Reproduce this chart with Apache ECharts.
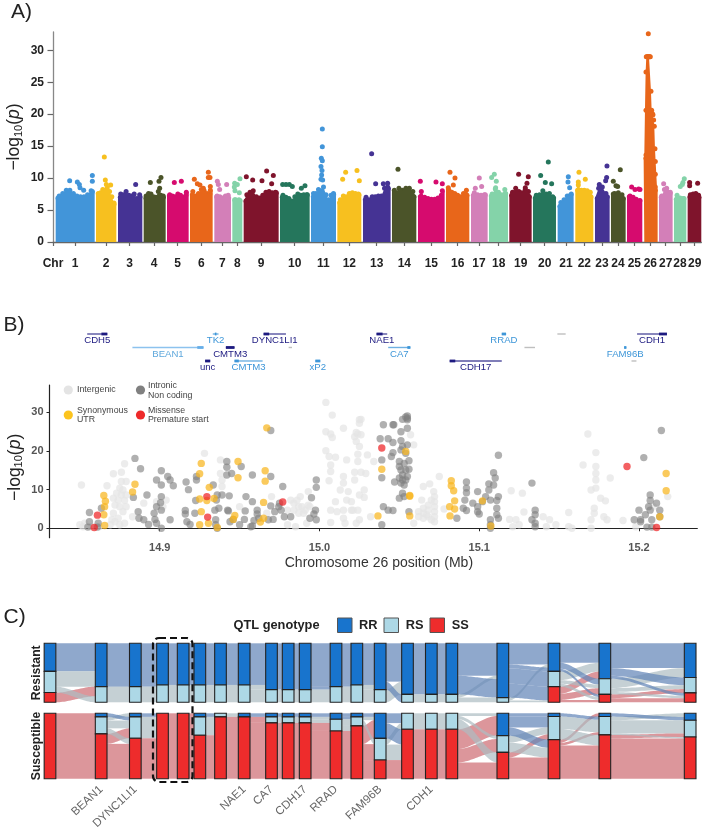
<!DOCTYPE html>
<html><head><meta charset="utf-8">
<style>html,body{margin:0;padding:0;background:#fff}#c{width:711px;height:831px;filter:blur(.4px)}</style>
<script src="https://cdn.jsdelivr.net/npm/echarts@6/dist/echarts.min.js"></script>
</head><body><div id="c"></div>
<script>
const FONT='"Liberation Sans",Arial,sans-serif';
// ---------- Panel A: genome-wide scan (x in arbitrary cumulative genome units)
const chrNames=['1','2','3','4','5','6','7','8','9','10','11','12','13','14','15','16','17','18','19','20','21','22','23','24','25','26','27','28','29'];
const chrStart=[167,288,354,431,501,570,643,697,731,840,933,1012,1089,1176,1254,1338,1413,1467,1528,1599,1673,1726,1785,1833,1881,1931,1977,2022,2063];
const chrEnd=[284,349,427,497,566,638,693,727,836,929,1008,1084,1172,1249,1334,1408,1463,1524,1595,1668,1721,1780,1829,1877,1927,1973,2018,2059,2104];
const chrLabelPos=[225,318,389,462,533,604,667,712,783,884,970,1048,1130,1213,1294,1373,1437,1496,1562,1634,1698,1753,1806,1854,1903,1951,1997,2040,2084];
const chrPalette=['#4295d9','#f7c01f','#453394','#4b5429','#d60b6e','#e8661a','#d37fb8','#84d3a9','#7f142c','#25765c'];
const chrTop=[
[7.3,7.6,8,8.5,8.5,8,7.6,7.5,7.5,7.8,8.4,8.3],
[8,7.9,8.1,8.6,8.5,8.9,8.3,7.5,6.5,6.3],
[7.4,7.9,7.8,8.3,7.7,7.6,7.9,7.2,7.8,7.5],
[7.3,7.6,8,7.9,7.5,7.4,8.3,7.7,7.6,7.4],
[7.6,7.8,7.6,7.5,7.9,7.7,7.4,7.7,8.2],
[7.8,8.3,7.6,8,8.6,8.4,8,7.9,8.5],
[7.5,7.6,7.5,7.3,7.6,7.7,7.3],
[7,7,7,6.9],
[6.8,7.8,8.2,8.4,7.5,7.3,7.7,8.2,8.3,8.1,8.2,8.1],
[7.4,7.7,7.4,7.2,6.8,7.5,7.9,7.7,7.8,7.8,7.8],
[7.5,8,8,8.6,8.4,9,7.8,7,7.7,8,7.8],
[6.6,7,7.6,7.5,8,8.1,8,7.9,7.8],
[7,7.4,7,7.5,7.5,7.6,7.6,8.8,9,8.8],
[8.5,8.1,8.8,8.5,8.8,8.8,8.3,7.5],
[7.5,8.3,7.4,7.2,7.1,7.1,7.3,7.7,8.4],
[8.9,8.5,8.2,8,7.7,7.5,8,8.5,7.7],
[7.7,8.1,7.8,7.7,7.8,7.8],
[7.6,7.9,8.7,8.2,7.8,8.6,8],
[7.7,8.2,8.8,8.3,8.1,8.6,8.3,7.5],
[7.3,7.7,7.8,8.4,7.9,8,7.5,7.3],
[6,6.6,7,7.6,7.7,7.9],
[8.5,9.3,8.5,8.5,8.4,8.2,7.5],
[7.2,8.8,9,8,7.5],
[7.9,8,8.1,7.8,7.2],
[7.5,7.6,7.4,7.1,6.8,6.9],
[13.5,14,21,27,29.4,29.4,29.4,29.4,29.4,29.4,29.4,24,21,20.5,20.3,19.5,18.5,15,13,11,9,8.5],
[7.4,7.6,8.6,8.3,7.9,8.2],
[7.1,7.7,7.3,7.2,7.2],
[7.5,7.8,7.9,8,7.7,7.4]];
const chrPeaks=[
[[209,9.6],[232,9.4],[238,9],[240,8.5],[251,8.1],[277,10.4],[277,9.5]],
[[313,13.3],[316,9.7],[332,8.9],[319,9]],
[[407,9]],
[[451,9.3],[477,9.5],[483,10.1],[479,8.4]],
[[523,9.3],[544,9.5]],
[[583,9.8],[592,9.1],[600,8.9],[625,10.9],[625,10.1],[630,10.1],[610,8.4],[631,8.7]],
[[652,9.5],[655,9],[659,8.2],[680,9]],
[[704,9.2],[703,8.6],[712,9],[720,9.9],[718,7.7],[705,8]],
[[739,10.2],[758,9.7],[786,9.6],[800,11.1],[815,9.1],[820,10.4]],
[[848,9],[858,9],[868,9],[877,8.7],[904,8.4],[915,8.8]],
[[967,17.7],[967,14.9],[964,13.1],[967,12.7],[963,11.8],[966,11.2],[965,10.5],[968,9.7],[963,9.8]],
[[1028,9.8],[1037,10.9],[1071,11.2],[1078,9.6]],
[[1115,13.8],[1127,9.1],[1150,9.1],[1163,9.2]],
[[1194,11.4]],
[[1261,9.5],[1308,9.4],[1327,9.1]],
[[1350,10.9],[1365,10],[1360,8.9]],
[[1438,10],[1445,8.7],[1426,8.4]],
[[1475,10.1],[1483,10.6],[1489,9.5],[1487,8.5]],
[[1556,10.6],[1585,10.2],[1581,9.2],[1576,8.5]],
[[1645,12.5],[1622,10.4],[1636,9.3],[1655,9.1]],
[[1705,10.2],[1704,9.4],[1709,8.5]],
[[1737,10.9],[1735,9.4],[1756,9.8]],
[[1821,11.9],[1820,10.1],[1817,9.6],[1798,9]],
[[1861,11.3],[1840,9.5],[1848,8.8],[1853,8.7]],
[[1895,8.6],[1905,8.2],[1916,8.3],[1920,8.2]],
[[1945,32.6]],
[[1991,9.1],[2000,8.4]],
[[2041,8.7],[2047,9],[2053,9.9],[2049,9.3]],
[[2069,9.3],[2069,8.8],[2093,9.2]]];
// ---------- Panel B: chromosome 26 zoom [Mb, -log10 p]
const intergenic=[[14.851,11.2],[14.876,14.5],[14.871,14.1],[14.878,16.7],[14.928,19.4],[14.938,17.7],[14.938,14.2],[14.939,12.5],[14.867,11],[14.876,12.1],[14.879,12.1],[14.875,10.4],[14.877,9.9],[14.873,9.1],[14.876,8.6],[14.879,8.6],[14.871,7.8],[14.874,7.3],[14.878,7.2],[14.872,6],[14.875,5.6],[14.879,5.6],[14.877,4.3],[14.871,3.9],[14.874,2.6],[14.87,2.2],[14.85,.9],[14.853,1.3],[14.852,.4],[14.857,.4],[14.862,.4],[14.869,.9],[14.872,1.7],[14.875,.9],[14.878,1.3],[14.883,3],[14.89,6.5],[14.902,5.6],[14.904,7.3],[14.898,6.9],[14.939,10.8],[14.95,5.6],[14.967,3.9],[14.97,8.2],[14.98,4.7],[14.982,7.3],[14.984,6.5],[14.986,7.3],[14.988,8.2],[14.993,9.5],[14.984,4.7],[14.987,5.6],[14.989,5.6],[14.991,4.7],[14.993,6],[14.987,3.9],[14.99,3.9],[14.994,5.6],[14.98,.9],[14.985,.4],[14.992,1.3],
[15.004,32.6],[15.008,29.3],[15.015,25.9],[15.004,25],[15.007,24.4],[15.008,23.5],[15.004,20.1],[15.006,18.6],[15.01,18.4],[15.007,16.4],[15.007,14.7],[15.006,12.3],[15.017,17.7],[15.022,23.7],[15.024,24.4],[15.025,21.2],[15.025,28.1],[15.025,27.2],[15.024,19.2],[15.024,17.3],[15.022,14.5],[15.015,13.4],[15.015,11.7],[15.013,9.9],[15.017,7.3],[15.01,6.9],[15.007,4.7],[15.011,4.3],[15.015,4.7],[15.02,4.7],[15.007,1.5],[15.015,2.6],[15.024,4.7],[15.016,1.3],[15.025,2.2],[15.018,9.5],
[15.026,28.2],[15.023,24.8],[15.026,24.2],[15.023,22.5],[15.03,19],[15.034,17.3],[15.026,14.5],[15.029,14.2],[15.022,12.5],[15.028,9.9],[15.028,8],[15.025,8.6],[15.02,6.9],[15.021,4.7],[15.023,1.3],[15.032,3],[15.059,21.6],[15.057,24.2],[15.075,13.4],[15.065,10.8],[15.069,11.5],[15.064,7.3],[15.0715,9.5],[15.072,8.2],[15.072,6.9],[15.072,5.6],[15.072,4.3],[15.072,3],[15.072,1.7],[15.068,6],[15.068,4.7],[15.068,3],[15.065,5.2],[15.065,3.9],[15.065,2.6],[15.062,4.3],[15.062,3],[15.07,7.3],[15.067,3.5],[15.07,2.2],[15.078,5],[15.059,1.3],
[15.121,.4],[15.12,9.7],[15.127,9.1],[15.128,4.2],[15.119,2.3],[15.123,2.2],[15.125,.9],[15.14,3],[15.144,2.2],[15.142,.4],[15.148,.9],[15.156,4.1],[15.156,.4],[15.158,0],[15.165,16.4],[15.168,24.4],[15.173,19.6],[15.173,16],[15.173,14.2],[15.173,12.5],[15.173,10.4],[15.17,9.9],[15.176,7.8],[15.179,7.1],[15.182,13],[15.172,5.2],[15.172,3.9],[15.17,2.2],[15.178,3],[15.18,2.2],[15.17,0],[15.19,2],[15.198,.4],[15.218,8.2],[15.209,5.6]];
const intronic=[[14.8845,18.1],[14.888,15.4],[14.8835,8],[14.856,4.1],[14.8635,5.2],[14.856,1.7],[14.8615,1.3],[14.855,.3],[14.861,.3],[14.8865,4.3],[14.887,2.6],[14.89,2.2],[14.892,8.6],[14.898,12.5],[14.901,14.9],[14.901,11.2],[14.905,13.4],[14.9065,12.5],[14.9085,11],[14.901,8.2],[14.9005,6.6],[14.8965,3.9],[14.898,5.6],[14.897,2.3],[14.893,1],[14.898,1.3],[14.901,0],[14.901,4.7],[14.9065,2.2],[14.9165,12],[14.918,10],[14.923,13.4],[14.923,12.5],[14.9225,7.2],[14.916,4.6],[14.922,3.9],[14.916,3.7],[14.917,1.7],[14.919,1],[14.9335,11.2],[14.936,8.6],[14.939,8.6],[14.9435,8.4],[14.9355,7.3],[14.937,5.2],[14.9345,4.7],[14.9425,4.7],[14.943,4.5],[14.942,17.3],[14.942,15.8],[14.942,13.8],[14.945,14.2],[14.951,16],[14.958,13.8],[14.9695,25.3],[14.9695,13.4],[14.977,10.8],[14.954,8.2],[14.958,6.9],[14.9535,4.5],[14.961,4.7],[14.9695,5.8],[14.9745,5.6],[14.975,6.5],[14.976,4.7],[14.972,4.3],[14.971,2.3],[14.968,2.2],[14.978,3],[14.982,3],[14.961,3.7],[14.962,2.6],[14.959,2],[14.957,.4],[14.958,.6],[14.953,2.3],[14.95,.9],[14.946,2.3],[14.944,1.7],[14.935,2.2],[14.935,.9],[14.936,0],[14.998,12.5],[14.998,10.6],[14.995,7.9],[14.9975,4.7],[14.9965,3.7],[14.994,2.6],[14.998,2.2],
[15.04,26.8],[15.046,26.8],[15.0465,26.8],[15.055,29.1],[15.052,28.2],[15.055,28.1],[15.055,28.5],[15.054,28.8],[15.055,25.9],[15.051,25],[15.038,23.2],[15.043,23.2],[15.046,22.2],[15.051,22.7],[15.052,21.2],[15.055,21.6],[15.051,20.3],[15.054,19.4],[15.046,19.6],[15.045,18.6],[15.039,17.7],[15.05,17.3],[15.05,16],[15.053,16.8],[15.056,17.5],[15.051,15.1],[15.054,15.1],[15.052,13.8],[15.05,13],[15.052,12.5],[15.056,15.3],[15.055,13.4],[15.051,11.7],[15.047,12],[15.053,11.2],[15.054,12.5],[15.039,13.1],[15.052,9.1],[15.05,7.8],[15.053,8.2],[15.04,5.6],[15.043,4.7],[15.046,4.6],[15.056,4.3],[15.039,.9],
[15.112,18.9],[15.109,14.4],[15.11,13],[15.106,11.5],[15.109,11.2],[15.092,12],[15.092,10.4],[15.092,9.2],[15.091,7.3],[15.099,9.5],[15.106,9.9],[15.104,8.2],[15.102,6.9],[15.112,8.2],[15.111,7.2],[15.107,7.3],[15.096,6.5],[15.099,5.6],[15.099,4.3],[15.09,5.2],[15.092,4.6],[15.1,3.7],[15.111,5.2],[15.111,3.5],[15.112,2.6],[15.086,2.6],[15.107,2.2],[15.107,.9],[15.107,0],[15.133,11.7],[15.135,4.7],[15.135,3.5],[15.133,2.2],[15.135,.4],[15.135,1.3],
[15.214,25.3],[15.203,18.3],[15.207,8.6],[15.207,7.2],[15.211,6.5],[15.206,5.6],[15.213,4.7],[15.207,4.7],[15.2,4.7],[15.204,3.5],[15.197,2.2],[15.201,2.2],[15.201,1.7],[15.208,2.2],[15.205,.3],[15.208,.3],[15.213,3]];
const synonymous=[[14.967,26],[14.926,16.8],[14.949,17.3],[14.925,14.1],[14.949,13.1],[14.966,14.9],[14.966,12.2],[14.8845,11.4],[14.883,9.4],[14.931,10.6],[14.865,8.5],[14.866,7],[14.8655,5.6],[14.865,3.5],[14.8655,.7],[14.925,7.6],[14.9295,7.2],[14.934,7.7],[14.965,6.7],[14.926,4.3],[14.947,3.3],[14.946,2.3],[14.965,2.6],[14.963,1.6],[14.925,.9],[14.9305,1.3],[14.936,.2],
[15.039,15.3],[15.054,19.9],[15.0565,8.5],[15.0565,8.3],[15.0366,3.2],[15.0565,3.2],[15.0825,12.3],[15.0825,11],[15.084,9.7],[15.0846,7.1],[15.0815,5.6],[15.0846,5],[15.0817,3.2],[15.102,7.1],[15.1073,.6],[15.217,14.2],[15.217,9.7],[15.213,3]];
const missense=[[14.861,3.4],[14.859,.2],[14.9295,8.2],[14.93,2.9],[14.977,6.8],[15.039,20.8],[15.1925,16],[15.211,.2]];
// gene track
const geneNames=['CDH5','TK2','DYNC1LI1','NAE1','RRAD','','CDH1','BEAN1','CMTM3','','CA7','','FAM96B','unc','CMTM3','xP2','CDH17',''];
const geneStart=[14.8546,14.9332,14.965,15.0357,15.1141,15.1489,15.1988,14.8829,14.9414,14.9807,15.043,15.1283,15.1907,14.9284,14.9468,14.9974,15.0815,15.1953];
const geneEnd=[14.8672,14.9368,14.979,15.0424,15.1168,15.1541,15.2175,14.9274,14.9468,14.9828,15.0569,15.1349,15.1921,14.9316,14.9644,15.0005,15.1141,15.1984];
const geneRow=[0,0,0,0,0,0,0,1,1,1,1,1,1,2,2,2,2,2];
const geneKind=[0,1,0,0,1,2,0,3,0,2,1,2,1,0,1,1,0,2];
const geneThickStart=[14.8635,14.9345,14.965,15.0357,15.1141,0,15.2125,14.9235,14.9414,0,15.055,0,15.1907,14.9284,14.9468,14.9974,15.0815,0];
const geneThickEnd=[14.8672,14.9355,14.9685,15.0395,15.1168,0,15.2175,14.9274,14.9468,0,15.0569,0,15.1921,14.9316,14.9495,15.0005,15.085,0];
const geneColors=['#1d1a80','#3d96d8','#aaaaaa','#66aee8'];
// ---------- Panel C: genotype frequencies along the QTL
const markerPos=[150,303.5,406,487.5,549.5,599.5,661.5,732.5,814.5,864.5,915.5,1008,1070.5,1140.5,1222.5,1294,1355.5,1508.5,1662,1814.5,2070.5];
const resRR=[.475,.735,.735,.706,.706,.706,.706,.706,.785,.785,.785,.735,.706,.785,.865,.865,.865,.92,.475,.6,.58];
const resRS=[.36,.265,.265,.294,.294,.294,.294,.294,.215,.215,.215,.265,.294,.215,.135,.135,.135,.08,.26,.265,.26];
const resSS=[.165,0,0,0,0,0,0,0,0,0,0,0,0,0,0,0,0,0,.265,.135,.16];
const susRR=[0,.055,.055,0,0,.055,0,.055,.055,.055,.055,.092,.055,.383,0,0,0,.342,.05,.05,.107];
const susRS=[0,.26,.327,0,0,.28,.055,0,.092,.092,.092,.178,.138,.332,.245,.245,.245,.255,.352,.28,.255];
const susSS=[1,.685,.618,1,1,.665,.945,.945,.853,.853,.853,.73,.807,.285,.755,.755,.755,.403,.598,.67,.638];
// hand-read crossings between markers: [from genotype, to genotype, share]; gaps not listed follow stratum order
const resFlows={0:[[0,0,.475],[1,0,.26],[2,1,.165],[1,1,.1]],
13:[[0,0,.65],[1,0,.215],[0,1,.135]],
16:[[0,0,.55],[1,0,.055],[0,0,.315],[1,1,.08]],
17:[[0,0,.36],[1,0,.05],[0,0,.065],[0,1,.26],[0,2,.235],[1,2,.03]],
18:[[0,0,.33],[1,0,.15],[2,0,.12],[0,1,.1],[1,1,.06],[2,1,.105],[0,2,.045],[1,2,.05],[2,2,.04]],
19:[[0,0,.42],[1,0,.16],[0,1,.13],[1,1,.065],[2,1,.065],[0,2,.05],[1,2,.04],[2,2,.07]]};
const susFlows={1:[[1,0,.055],[0,1,.055],[1,1,.12],[2,1,.152],[1,2,.085],[2,2,.533]],
12:[[0,0,.055],[1,0,.05],[2,0,.278],[1,1,.088],[2,1,.244],[2,2,.285]],
13:[[0,1,.15],[1,1,.095],[0,2,.233],[1,2,.237],[2,2,.285]],
16:[[1,0,.04],[2,0,.302],[1,1,.05],[2,1,.205],[1,2,.155],[2,2,.248]],
17:[[0,0,.05],[0,1,.166],[1,1,.106],[2,1,.08],[0,2,.126],[1,2,.149],[2,2,.323]],
18:[[2,0,.05],[0,1,.05],[1,1,.19],[2,1,.04],[1,2,.162],[2,2,.508]],
19:[[1,0,.057],[0,0,.05],[1,1,.2],[2,1,.055],[1,2,.023],[2,2,.615]]};
const markerGeneNames=['BEAN1','DYNC1LI1','NAE1','CA7','CDH17','RRAD','FAM96B','CDH1'];
const markerGeneIdx=[1,2,7,8,10,11,13,15];
const genoNames=['RR','RS','SS'];
const genoFill=['#1874cd','#add8e6','#ee2c2c'];
const flowFill=['rgba(100,135,185,.72)','rgba(172,188,194,.7)','rgba(205,105,113,.7)'];

// ---------- helpers
const colWidth=35;
function nwFlows(a,b){const out=[];let i=0,j=0,ra=a[0],rb=b[0];
  while(i<3&&j<3){const m=Math.min(ra,rb);if(m>1e-6)out.push([i,j,m]);ra-=m;rb-=m;
    if(ra<=1e-6){i++;ra=a[i]}else if(rb<=1e-6){j++;rb=b[j]}
    else{i++;ra=a[i]}}
  return out}
function buildFlows(RR,RS,SS,table){const rows=[];
  for(let g=0;g<markerPos.length-1;g++){
    const a=[RR[g],RS[g],SS[g]],b=[RR[g+1],RS[g+1],SS[g+1]];
    const list=table[g]||nwFlows(a,b);
    const ca=[0,a[0],a[0]+a[1]],cb=[0,b[0],b[0]+b[1]];
    list.forEach(f=>{const s=ca[f[0]],d=cb[f[1]];ca[f[0]]+=f[2];cb[f[1]]+=f[2];
      rows.push([markerPos[g]+colWidth/2,markerPos[g+1]-colWidth/2,s,s+f[2],d,d+f[2],f[0]]);});
  }
  return rows}
function buildStrata(RR,RS,SS){const rows=[];
  markerPos.forEach((x,i)=>{let c=0;[RR[i],RS[i],SS[i]].forEach((v,k)=>{if(v>0)rows.push([x,c,c+v,k]);c+=v;});});
  return rows}
function renderFlow(p,api){
  const x0=api.value(0),x1=api.value(1),a0=api.value(2),a1=api.value(3),b0=api.value(4),b1=api.value(5),k=api.value(6);
  const top=[],bot=[];const N=24;
  for(let i=0;i<=N;i++){const t=i/N,e=t*t*(3-2*t),x=x0+(x1-x0)*t;
    top.push(api.coord([x,a0+(b0-a0)*e]));bot.unshift(api.coord([x,a1+(b1-a1)*e]));}
  return {type:'polygon',shape:{points:top.concat(bot)},style:{fill:flowFill[k]},silent:true}}
function renderStratum(p,api){
  const x=api.value(0),a=api.coord([x-colWidth/2,api.value(1)]),b=api.coord([x+colWidth/2,api.value(2)]);
  return {type:'rect',shape:{x:a[0],y:a[1],width:b[0]-a[0],height:b[1]-a[1]},style:{fill:genoFill[api.value(3)],stroke:'#222',lineWidth:1.1},silent:true}}
function renderGene(p,api){
  const i=p.dataIndex,c=geneColors[geneKind[i]],r=geneRow[i];
  const a=api.coord([geneStart[i],r]),b=api.coord([geneEnd[i],r]);
  const kids=[{type:'rect',shape:{x:a[0],y:a[1]-.7,width:b[0]-a[0],height:1.4},style:{fill:c,opacity:.75}}];
  if(geneThickEnd[i]>0){const s=api.coord([geneThickStart[i],r]),e=api.coord([geneThickEnd[i],r]);
    kids.push({type:'rect',shape:{x:s[0],y:a[1]-1.4,width:e[0]-s[0],height:2.8},style:{fill:c}});}
  if(geneNames[i])kids.push({type:'text',style:{text:geneNames[i],x:(a[0]+b[0])/2,y:a[1]+6.6,fill:c==='#66aee8'?'#5fa8dc':c,fontSize:9.6,fontFamily:FONT,align:'center',verticalAlign:'middle'}});
  return {type:'group',children:kids,silent:true}}
const logName='{a|\u2212log}{s|10}{a|(}{i|p}{a|)}';
const logRich={a:{fontSize:17.5,fontFamily:FONT,color:'#222'},s:{fontSize:11,fontFamily:FONT,color:'#222',verticalAlign:'bottom',lineHeight:19},i:{fontSize:17.5,fontFamily:FONT,fontStyle:'italic',color:'#222'}};
const hidden={show:false};

// ---------- series
const series=[];
chrNames.forEach((n,i)=>{
  const top=chrTop[i],c=chrPalette[i<20?i%10:(i-20)%10],s=chrStart[i],e=chrEnd[i],step=(e-s)/(top.length-1),lift=.4;
  series.push({type:'line',xAxisIndex:0,yAxisIndex:0,clip:false,showSymbol:false,silent:true,
    lineStyle:{width:0},itemStyle:{color:c},areaStyle:{color:c,opacity:1},
    data:top.map((v,k)=>[s+k*step,v-lift])});
  series.push({type:'scatter',xAxisIndex:0,yAxisIndex:0,clip:false,silent:true,symbolSize:5,itemStyle:{color:c,opacity:1},
    data:top.map((v,k)=>[Math.min(Math.max(s+k*step,s+7),e-7),v-lift]).concat(chrPeaks[i])});
});
series.push({type:'custom',xAxisIndex:1,yAxisIndex:1,clip:false,silent:true,renderItem:renderGene,
  data:geneStart.map((v,i)=>[v,geneRow[i]]),encode:{x:0,y:1}});
[[intergenic,'#e4e4e4',.72],[intronic,'#7f7f7f',.62],[synonymous,'#f8b51e',.72],[missense,'#ee2226',.72]].forEach(d=>{
  series.push({type:'scatter',xAxisIndex:2,yAxisIndex:2,clip:false,silent:true,symbolSize:7.4,itemStyle:{color:d[1],opacity:d[2]},data:d[0]});});
[[resRR,resRS,resSS,resFlows,3],[susRR,susRS,susSS,susFlows,4]].forEach(f=>{
  series.push({type:'custom',xAxisIndex:f[4],yAxisIndex:f[4],silent:true,clip:false,renderItem:renderFlow,encode:{x:[0,1],y:[2,3,4,5]},data:buildFlows(f[0],f[1],f[2],f[3])});
  series.push({type:'custom',xAxisIndex:f[4],yAxisIndex:f[4],silent:true,clip:false,z:4,renderItem:renderStratum,encode:{x:0,y:[1,2]},data:buildStrata(f[0],f[1],f[2])});
});

// ---------- annotation layer
const txt=(text,x,y,font,fill,extra)=>Object.assign({type:'text',x,y,z:20,silent:true,style:Object.assign({text,font,fill,textVerticalAlign:'middle',verticalAlign:'middle'},extra||{})},{});
const dot=(cx,cy,fill)=>({type:'circle',z:20,silent:true,shape:{cx,cy,r:4.6},style:{fill}});
const sq=(x,k)=>({type:'rect',z:20,silent:true,shape:{x,y:618,width:14.5,height:14.5},style:{fill:genoFill[k],stroke:'#555',lineWidth:1}});
const small='8.8px '+FONT, big='21px '+FONT, legB='bold 12.8px '+FONT;
const graphic=[
 txt('A)',11,12.5,big,'#222'),txt('B)',3.5,325,big,'#222'),txt('C)',3.5,617,big,'#222'),
 dot(68.3,390,'#e4e4e4'),txt('Intergenic',77,390,small,'#444'),
 dot(140.5,390,'#808080'),txt('Intronic',148,385.5,small,'#444'),txt('Non coding',148,395.5,small,'#444'),
 dot(68.3,415,'#fcc41e'),txt('Synonymous',77,410.5,small,'#444'),txt('UTR',77,420,small,'#444'),
 dot(140.5,415,'#ee2a2a'),txt('Missense',148,410.5,small,'#444'),txt('Premature start',148,420,small,'#444'),
 txt('QTL genotype',233.5,625.5,legB,'#222'),
 sq(337.5,0),txt(genoNames[0],359,625.5,legB,'#222'),
 sq(384,1),txt(genoNames[1],405.7,625.5,legB,'#222'),
 sq(430,2),txt(genoNames[2],451.7,625.5,legB,'#222'),
 {type:'rect',z:21,silent:true,shape:{x:153,y:638,width:39.5,height:144,r:6},style:{fill:'none',stroke:'#111',lineWidth:2.2,lineDash:[7,4]}}
];

const option={animation:false,backgroundColor:'#fff',textStyle:{fontFamily:FONT},
 grid:[
  {left:53,right:9.7,top:32,height:210,outerBoundsMode:'none'},
  {left:49.5,right:13.7,top:325,height:60,outerBoundsMode:'none'},
  {left:49.5,right:13.7,top:385,height:152.7,outerBoundsMode:'none'},
  {left:44.33,right:15,top:643.3,height:59,outerBoundsMode:'none'},
  {left:44.33,right:15,top:713.3,height:65.4,outerBoundsMode:'none'}],
 xAxis:[
  {gridIndex:0,type:'value',min:159,max:2104,offset:8,splitLine:hidden,
   axisLine:{lineStyle:{color:'#666',width:1.3}},axisTick:{length:4,lineStyle:{color:'#666',width:1.2},customValues:chrLabelPos.concat([159])},
   axisLabel:{customValues:[159].concat(chrLabelPos),margin:8,fontSize:12,fontWeight:'bold',color:'#222',fontFamily:FONT,hideOverlap:false,showMinLabel:true,showMaxLabel:true,
     formatter:v=>v===159?'Chr':chrNames[chrLabelPos.indexOf(v)]}},
  {gridIndex:1,type:'value',min:14.831,max:15.2365,show:false},
  {gridIndex:2,type:'value',min:14.831,max:15.2365,splitLine:hidden,
   axisLine:{lineStyle:{color:'#222',width:1.2}},axisTick:{length:3,lineStyle:{color:'#222'},customValues:[14.9,15,15.1,15.2]},
   axisLabel:{customValues:[14.9,15,15.1,15.2],margin:5,fontSize:11,fontWeight:'bold',color:'#555',fontFamily:FONT,formatter:v=>v.toFixed(1)},
   name:'Chromosome 26 position (Mb)',nameLocation:'middle',nameGap:18,nameMoveOverlap:false,nameTextStyle:{fontSize:14,color:'#333',fontFamily:FONT,padding:[0,0,0,11]}},
  {gridIndex:3,type:'value',min:133,max:2088,show:false},
  {gridIndex:4,type:'value',min:133,max:2088,splitLine:hidden,axisLine:hidden,axisTick:hidden,
   axisLabel:{customValues:markerGeneIdx.map(i=>markerPos[i]),rotate:43,margin:9,fontSize:11.6,color:'#666',fontFamily:FONT,hideOverlap:false,
     formatter:v=>markerGeneNames[markerGeneIdx.map(i=>markerPos[i]).indexOf(v)]}}],
 yAxis:[
  {gridIndex:0,type:'value',min:0,max:32.86,splitLine:hidden,
   axisLine:{show:true,lineStyle:{color:'#888',width:1.3}},axisTick:{show:true,length:5.5,lineStyle:{color:'#666',width:1.2},customValues:[0,5,10,15,20,25,30]},
   axisLabel:{customValues:[0,5,10,15,20,25,30],margin:9,fontSize:12,fontWeight:'bold',color:'#222',fontFamily:FONT},
   name:logName,nameLocation:'middle',nameRotate:90,nameGap:29,nameMoveOverlap:false,nameTextStyle:{rich:logRich}},
  {gridIndex:1,type:'value',min:-.667,max:3.78,inverse:true,show:false},
  {gridIndex:2,type:'value',min:-2.44,max:37.1,splitLine:hidden,
   axisLine:{show:true,lineStyle:{color:'#222',width:1.2}},axisTick:{show:true,length:3,lineStyle:{color:'#222'},customValues:[0,10,20,30]},
   axisLabel:{customValues:[0,10,20,30],margin:6,fontSize:11,fontWeight:'bold',color:'#555',fontFamily:FONT},
   name:logName,nameLocation:'middle',nameRotate:90,nameGap:25,nameMoveOverlap:false,nameTextStyle:{rich:logRich,padding:[0,12,0,0]}},
  {gridIndex:3,type:'value',min:0,max:1,inverse:true,splitLine:hidden,axisLine:hidden,axisTick:hidden,axisLabel:hidden,
   name:'Resistant',nameLocation:'middle',nameRotate:90,nameGap:2,nameMoveOverlap:false,nameTextStyle:{fontSize:12.2,fontWeight:'bold',color:'#222',fontFamily:FONT}},
  {gridIndex:4,type:'value',min:0,max:1,inverse:true,splitLine:hidden,axisLine:hidden,axisTick:hidden,axisLabel:hidden,
   name:'Susceptible',nameLocation:'middle',nameRotate:90,nameGap:2,nameMoveOverlap:false,nameTextStyle:{fontSize:12.2,fontWeight:'bold',color:'#222',fontFamily:FONT}}],
 series,graphic};
echarts.init(document.getElementById('c')).setOption(option);
</script></body></html>
